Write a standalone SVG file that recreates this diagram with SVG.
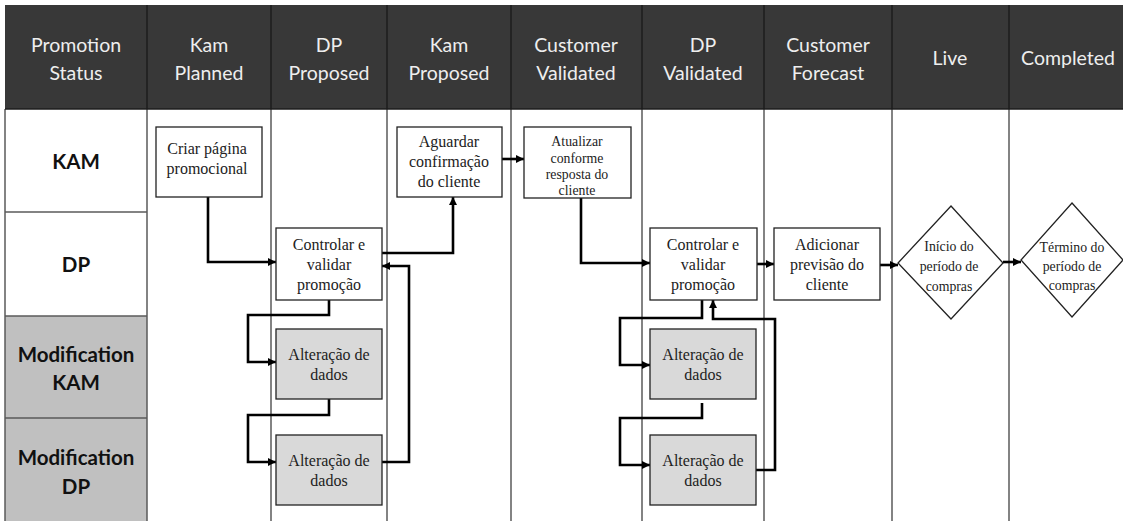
<svg xmlns="http://www.w3.org/2000/svg" width="1123" height="521" viewBox="0 0 1123 521">
  <style>
    .hdr { fill: #383838; }
    .hdr-txt { font-family: Lato, "Liberation Sans", sans-serif; font-size: 19.5px; fill: #eeeeee; text-anchor: middle; }
    .lane-txt { font-family: Lato, "Liberation Sans", sans-serif; font-size: 20.5px; font-weight: bold; fill: #111; text-anchor: middle; }
    .grid { stroke: #5a5a5a; stroke-width: 1.5; fill: none; }
    .hgrid { stroke: #1c1c1c; stroke-width: 1.5; fill: none; }
    .box { fill: #ffffff; stroke: #222; stroke-width: 1.3; }
    .gbox { fill: #d9d9d9; stroke: #222; stroke-width: 1.3; }
    .txt { font-family: "Liberation Serif", "Times New Roman", serif; font-size: 16px; fill: #222; text-anchor: middle; }
    .small { font-size: 13.8px; }
    .conn { fill: none; stroke: #000; stroke-width: 2.6; }
  </style>
  <defs>
    <marker id="arrow" markerUnits="userSpaceOnUse" markerWidth="9" markerHeight="8" refX="8" refY="4" orient="auto">
      <path d="M0,0 L8,4 L0,8 Z" fill="#000"/>
    </marker>
  </defs>

  <rect x="0" y="0" width="1123" height="521" fill="#ffffff"/>

  <!-- header band -->
  <g id="header">
    <rect class="hdr" x="5" y="5" width="1118" height="104"/>
    <text class="hdr-txt" x="76" y="52">Promotion</text>
    <text class="hdr-txt" x="76" y="80">Status</text>
    <text class="hdr-txt" x="209" y="52">Kam</text>
    <text class="hdr-txt" x="209" y="80">Planned</text>
    <text class="hdr-txt" x="329" y="52">DP</text>
    <text class="hdr-txt" x="329" y="80">Proposed</text>
    <text class="hdr-txt" x="449" y="52">Kam</text>
    <text class="hdr-txt" x="449" y="80">Proposed</text>
    <text class="hdr-txt" x="576" y="52">Customer</text>
    <text class="hdr-txt" x="576" y="80">Validated</text>
    <text class="hdr-txt" x="703" y="52">DP</text>
    <text class="hdr-txt" x="703" y="80">Validated</text>
    <text class="hdr-txt" x="828" y="52">Customer</text>
    <text class="hdr-txt" x="828" y="80">Forecast</text>
    <text class="hdr-txt" x="950" y="65">Live</text>
    <text class="hdr-txt" x="1068" y="65">Completed</text>
  </g>

  <!-- lane labels -->
  <g id="lanes">
    <rect x="5" y="316" width="142" height="205" fill="#c0c0c0"/>
    <line class="grid" x1="5" y1="212" x2="147" y2="212"/>
    <line class="grid" x1="5" y1="316" x2="147" y2="316"/>
    <line class="grid" x1="5" y1="418" x2="147" y2="418"/>
    <text class="lane-txt" x="76" y="169">KAM</text>
    <text class="lane-txt" x="76" y="272">DP</text>
    <text class="lane-txt" x="76" y="362">Modification</text>
    <text class="lane-txt" x="76" y="390">KAM</text>
    <text class="lane-txt" x="76" y="465">Modification</text>
    <text class="lane-txt" x="76" y="494">DP</text>
  </g>

  <!-- column rules -->
  <g id="grid">
    <line class="grid" x1="5" y1="109" x2="5" y2="521"/>
    <line class="grid" x1="147" y1="109" x2="147" y2="521"/>
    <line class="grid" x1="271" y1="109" x2="271" y2="521"/>
    <line class="grid" x1="387" y1="109" x2="387" y2="521"/>
    <line class="grid" x1="511" y1="109" x2="511" y2="521"/>
    <line class="grid" x1="642" y1="109" x2="642" y2="521"/>
    <line class="grid" x1="764" y1="109" x2="764" y2="521"/>
    <line class="grid" x1="892" y1="109" x2="892" y2="521"/>
    <line class="grid" x1="1009" y1="109" x2="1009" y2="521"/>
    <line class="hgrid" x1="5" y1="109" x2="1123" y2="109"/>
    <line class="hgrid" x1="147" y1="5" x2="147" y2="109"/>
    <line class="hgrid" x1="271" y1="5" x2="271" y2="109"/>
    <line class="hgrid" x1="387" y1="5" x2="387" y2="109"/>
    <line class="hgrid" x1="511" y1="5" x2="511" y2="109"/>
    <line class="hgrid" x1="642" y1="5" x2="642" y2="109"/>
    <line class="hgrid" x1="764" y1="5" x2="764" y2="109"/>
    <line class="hgrid" x1="892" y1="5" x2="892" y2="109"/>
    <line class="hgrid" x1="1009" y1="5" x2="1009" y2="109"/>
  </g>

  <!-- connectors -->
  <g id="connectors">
    <path class="conn" d="M208,197 V262 H276" marker-end="url(#arrow)"/>
    <path class="conn" d="M382,253 H453 V197" marker-end="url(#arrow)"/>
    <path class="conn" d="M382,462 H409 V266 H382" marker-end="url(#arrow)"/>
    <path class="conn" d="M329,300 V315 H248 V362 H276" marker-end="url(#arrow)"/>
    <path class="conn" d="M329,399 V415 H248 V462 H276" marker-end="url(#arrow)"/>
    <path class="conn" d="M502,159 H524" marker-end="url(#arrow)"/>
    <path class="conn" d="M581,198 V263 H650" marker-end="url(#arrow)"/>
    <path class="conn" d="M757,264 H774" marker-end="url(#arrow)"/>
    <path class="conn" d="M702,300 V318 H620 V365 H650" marker-end="url(#arrow)"/>
    <path class="conn" d="M702,403 V418 H620 V465 H650" marker-end="url(#arrow)"/>
    <path class="conn" d="M756,470 H775 V319 H713 V300" marker-end="url(#arrow)"/>
    <path class="conn" d="M880,265 H898" marker-end="url(#arrow)"/>
    <path class="conn" d="M1003,262 H1021" marker-end="url(#arrow)"/>
  </g>

  <!-- process nodes -->
  <g id="criar-pagina">
    <rect class="box" x="156" y="127" width="106" height="70"/>
    <text class="txt" x="207" y="154">Criar página</text>
    <text class="txt" x="207" y="174">promocional</text>
  </g>
  <g id="controlar-1">
    <rect class="box" x="276" y="228" width="106" height="72"/>
    <text class="txt" x="329" y="250">Controlar e</text>
    <text class="txt" x="329" y="270">validar</text>
    <text class="txt" x="329" y="290">promoção</text>
  </g>
  <g id="alteracao-kam-1">
    <rect class="gbox" x="276" y="329" width="106" height="70"/>
    <text class="txt" x="329" y="360">Alteração de</text>
    <text class="txt" x="329" y="380">dados</text>
  </g>
  <g id="alteracao-dp-1">
    <rect class="gbox" x="276" y="435" width="106" height="70"/>
    <text class="txt" x="329" y="466">Alteração de</text>
    <text class="txt" x="329" y="486">dados</text>
  </g>
  <g id="aguardar">
    <rect class="box" x="397" y="127" width="105" height="70"/>
    <text class="txt" x="449" y="147">Aguardar</text>
    <text class="txt" x="449" y="167">confirmação</text>
    <text class="txt" x="449" y="187">do cliente</text>
  </g>
  <g id="atualizar">
    <rect class="box" x="524" y="127" width="107" height="71"/>
    <text class="txt small" x="577" y="146">Atualizar</text>
    <text class="txt small" x="577" y="163">conforme</text>
    <text class="txt small" x="577" y="179">resposta do</text>
    <text class="txt small" x="577" y="195">cliente</text>
  </g>
  <g id="controlar-2">
    <rect class="box" x="650" y="228" width="107" height="72"/>
    <text class="txt" x="703" y="250">Controlar e</text>
    <text class="txt" x="703" y="270">validar</text>
    <text class="txt" x="703" y="290">promoção</text>
  </g>
  <g id="alteracao-kam-2">
    <rect class="gbox" x="650" y="329" width="106" height="70"/>
    <text class="txt" x="703" y="360">Alteração de</text>
    <text class="txt" x="703" y="380">dados</text>
  </g>
  <g id="alteracao-dp-2">
    <rect class="gbox" x="650" y="435" width="106" height="70"/>
    <text class="txt" x="703" y="466">Alteração de</text>
    <text class="txt" x="703" y="486">dados</text>
  </g>
  <g id="adicionar-previsao">
    <rect class="box" x="774" y="228" width="106" height="72"/>
    <text class="txt" x="827" y="250">Adicionar</text>
    <text class="txt" x="827" y="270">previsão do</text>
    <text class="txt" x="827" y="290">cliente</text>
  </g>

  <!-- milestones -->
  <g id="inicio-compras">
    <polygon class="box" points="951,206 1003,263 951,319 898,263"/>
    <text class="txt small" x="949" y="251">Início do</text>
    <text class="txt small" x="949" y="271">período de</text>
    <text class="txt small" x="949" y="291">compras</text>
  </g>
  <g id="termino-compras">
    <polygon class="box" points="1072,203 1123,260 1072,317 1021,260"/>
    <text class="txt small" x="1072" y="252">Término do</text>
    <text class="txt small" x="1072" y="271">período de</text>
    <text class="txt small" x="1072" y="290">compras</text>
  </g>
</svg>
